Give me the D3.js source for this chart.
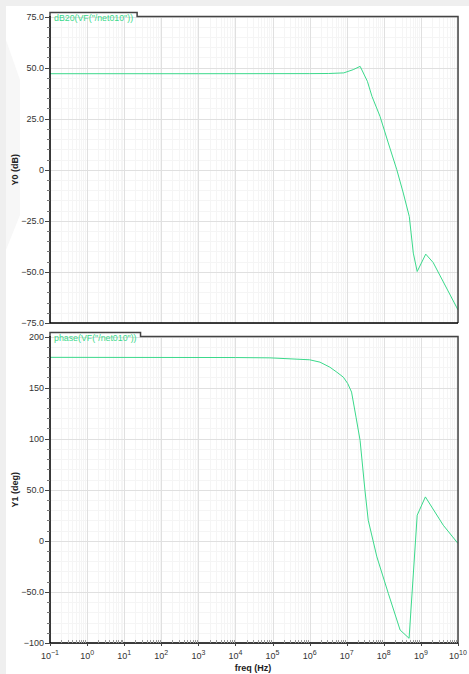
<!DOCTYPE html>
<html>
<head>
<meta charset="utf-8">
<script src="https://cdn.jsdelivr.net/npm/d3@7"></script>
<style>
  body { margin: 0; background: #efefef; }
  text { font-family: "Liberation Sans", Arial, sans-serif; }
</style>
</head>
<body>
<svg id="chart" width="469" height="674"></svg>
<script>
// frequencies (Hz) and the two traces
var dbFreq = [1e-1, 1e3, 1e6, 3.2e6, 8.3e6, 1.5e7, 2.3e7, 3.6e7, 4.8e7, 7.9e7, 1.32e8, 2.24e8, 3.35e8, 4.86e8, 6.24e8, 7.94e8, 1.35e9, 2.14e9, 1e10]
var dbValues = [47.0, 47.0, 47.05, 47.1, 47.4, 49.0, 50.6, 43.3, 35.9, 26.1, 13.1, 0, -11.4, -22.9, -40.8, -49.8, -41.3, -45.4, -68.6]

var phaseFreq = [1e-1, 1e4, 8.5e4, 1e6, 1.9e6, 3.5e6, 5.4e6, 8.1e6, 1.07e7, 1.35e7, 1.78e7, 2.29e7, 3.1e7, 3.8e7, 6.5e7, 1.32e8, 2.75e8, 4.8e8, 7.94e8, 1.32e9, 4e9, 1e10]
var phaseValues = [179.6, 179.4, 179.1, 177.2, 174.9, 170.0, 165.1, 160.2, 153.8, 145.6, 121.1, 98.4, 49.5, 20.2, -15.7, -51.4, -87.3, -95.4, 25.1, 43.0, 15.3, -2.6]

var dbTicks = [75, 50, 25, 0, -25, -50, -75]
var dbTickLabels = ["75.0", "50.0", "25.0", "0", "\u221225.0", "\u221250.0", "\u221275.0"]
var phaseTicks = [200, 150, 100, 50, 0, -50, -100]
var phaseTickLabels = ["200", "150", "100", "50.0", "0", "\u221250.0", "\u2212100"]
var decadeExps = [-1, 0, 1, 2, 3, 4, 5, 6, 7, 8, 9, 10]
var decadeLabels = ["\u22121", "0", "1", "2", "3", "4", "5", "6", "7", "8", "9", "10"]

var green = "#3bd98b"
var left = 50, right = 458

var svg = d3.select("#chart")

// page background: white sheet over grey margin, faint watermark at left
svg.append("rect").attr("x", 6).attr("y", 6).attr("width", 469).attr("height", 674).attr("fill", "white")
svg.append("polygon")
    .attr("points", "6,40 20,80 20,215 6,250")
    .attr("fill", "#f7f7f7")

var x = d3.scaleLog().domain([1e-1, 1e10]).range([left, right])

// minor frequency ticks 2..9 in every decade
var minorFreq = []
decadeExps.slice(0, -1).forEach(function(e) {
    for (var k = 2; k <= 9; k++) minorFreq.push(k * Math.pow(10, e))
})

var panels = [
    { top: 16.5, bottom: 323, domain: [-75, 75], ticks: dbTicks, labels: dbTickLabels, minorStep: 5,
      title: "Y0 (dB)", legend: "dB20(VF(\"/net010\"))", freq: dbFreq, values: dbValues, xLabels: false },
    { top: 336.5, bottom: 643, domain: [-100, 200], ticks: phaseTicks, labels: phaseTickLabels, minorStep: 10,
      title: "Y1 (deg)", legend: "phase(VF(\"/net010\"))", freq: phaseFreq, values: phaseValues, xLabels: true }
]

panels.forEach(function(p, i) {
    var y = d3.scaleLinear().domain(p.domain).range([p.bottom, p.top])
    var g = svg.append("g")

    var minorY = d3.range(p.domain[0], p.domain[1] + 0.001, p.minorStep)

    // minor grid
    g.selectAll(".vminor").data(minorFreq).enter().append("line")
        .attr("x1", function(d) { return Math.round(x(d)) + 0.5 })
        .attr("x2", function(d) { return Math.round(x(d)) + 0.5 })
        .attr("y1", p.top).attr("y2", p.bottom)
        .attr("stroke", "#f5f5f5").attr("stroke-width", 1)
    g.selectAll(".hminor").data(minorY).enter().append("line")
        .attr("x1", left).attr("x2", right)
        .attr("y1", function(d) { return Math.round(y(d)) + 0.5 })
        .attr("y2", function(d) { return Math.round(y(d)) + 0.5 })
        .attr("stroke", "#f5f5f5").attr("stroke-width", 1)

    // major grid
    g.selectAll(".vmajor").data(decadeExps).enter().append("line")
        .attr("x1", function(d) { return Math.round(x(Math.pow(10, d))) + 0.5 })
        .attr("x2", function(d) { return Math.round(x(Math.pow(10, d))) + 0.5 })
        .attr("y1", p.top).attr("y2", p.bottom)
        .attr("stroke", "#e0e0e0").attr("stroke-width", 1)
    g.selectAll(".hmajor").data(p.ticks).enter().append("line")
        .attr("x1", left).attr("x2", right)
        .attr("y1", function(d) { return Math.round(y(d)) + 0.5 })
        .attr("y2", function(d) { return Math.round(y(d)) + 0.5 })
        .attr("stroke", "#e0e0e0").attr("stroke-width", 1)

    // trace
    var clipId = "clip" + i
    svg.append("clipPath").attr("id", clipId).append("rect")
        .attr("x", left).attr("y", p.top).attr("width", right - left).attr("height", p.bottom - p.top)
    var pts = p.freq.map(function(f, j) { return { f: f, v: p.values[j] } })
    var line = d3.line().x(function(d) { return x(d.f) }).y(function(d) { return y(d.v) })
    g.append("path").datum(pts)
        .attr("d", line)
        .attr("clip-path", "url(#" + clipId + ")")
        .attr("fill", "none").attr("stroke", green).attr("stroke-width", 1)

    // legend tab + frame
    var label = g.append("text")
        .attr("x", 54).attr("y", p.top + 4)
        .attr("font-size", "8.8px").attr("fill", green)
        .text(p.legend)
    var tabRight = 54 + label.node().getComputedTextLength() + 4
    g.insert("rect", "text")
        .attr("x", left).attr("y", p.top - 4).attr("width", tabRight - left).attr("height", 4)
        .attr("fill", "white")
    g.append("path")
        .attr("d", "M" + left + "," + p.top + "V" + (p.top - 4) + "H" + tabRight + "V" + p.top +
            "H" + right + "V" + p.bottom)
        .attr("fill", "none").attr("stroke", "#444").attr("stroke-width", 1.5)
    g.append("path")
        .attr("d", "M" + left + "," + (p.top - 0.5) + "V" + p.bottom + "H" + right)
        .attr("fill", "none").attr("stroke", "black").attr("stroke-width", 1.5)

    // y ticks and labels
    g.selectAll(".yminTick").data(minorY).enter().append("line")
        .attr("x1", left - 3).attr("x2", left)
        .attr("y1", function(d) { return Math.round(y(d)) + 0.5 })
        .attr("y2", function(d) { return Math.round(y(d)) + 0.5 })
        .attr("stroke", "#777").attr("stroke-width", 1)
    g.selectAll(".ymajTick").data(p.ticks).enter().append("line")
        .attr("x1", left - 5).attr("x2", left)
        .attr("y1", function(d) { return Math.round(y(d)) + 0.5 })
        .attr("y2", function(d) { return Math.round(y(d)) + 0.5 })
        .attr("stroke", "#444").attr("stroke-width", 1)
    g.selectAll(".ylab").data(p.ticks).enter().append("text")
        .attr("x", left - 6)
        .attr("y", function(d) { return y(d) + 3.2 })
        .attr("text-anchor", "end").attr("font-size", "9px").attr("fill", "#333")
        .text(function(d, j) { return p.labels[j] })

    // y title
    var cy = (p.top + p.bottom) / 2
    g.append("text")
        .attr("transform", "translate(18," + cy + ") rotate(-90)")
        .attr("text-anchor", "middle").attr("font-size", "9px").attr("font-weight", "bold").attr("fill", "#222")
        .text(p.title)

    if (p.xLabels) {
        g.selectAll(".xminTick").data(minorFreq).enter().append("line")
            .attr("x1", function(d) { return Math.round(x(d)) + 0.5 })
            .attr("x2", function(d) { return Math.round(x(d)) + 0.5 })
            .attr("y1", p.bottom - 3).attr("y2", p.bottom)
            .attr("stroke", "#999").attr("stroke-width", 1)
        g.selectAll(".xmajTick").data(decadeExps).enter().append("line")
            .attr("x1", function(d) { return Math.round(x(Math.pow(10, d))) + 0.5 })
            .attr("x2", function(d) { return Math.round(x(Math.pow(10, d))) + 0.5 })
            .attr("y1", p.bottom).attr("y2", p.bottom + 3)
            .attr("stroke", "#444").attr("stroke-width", 1)
        var xl = g.selectAll(".xlab").data(decadeExps).enter().append("text")
            .attr("x", function(d) { return x(Math.pow(10, d)) })
            .attr("y", p.bottom + 16)
            .attr("text-anchor", "middle").attr("font-size", "9px").attr("fill", "#333")
        xl.append("tspan").text("10")
        xl.append("tspan").attr("font-size", "7px").attr("dy", -4)
            .text(function(d, j) { return decadeLabels[j] })
        g.append("text")
            .attr("x", 253).attr("y", p.bottom + 28)
            .attr("text-anchor", "middle").attr("font-size", "9px").attr("font-weight", "bold").attr("fill", "#222")
            .text("freq (Hz)")
    }
})
</script>
</body>
</html>
